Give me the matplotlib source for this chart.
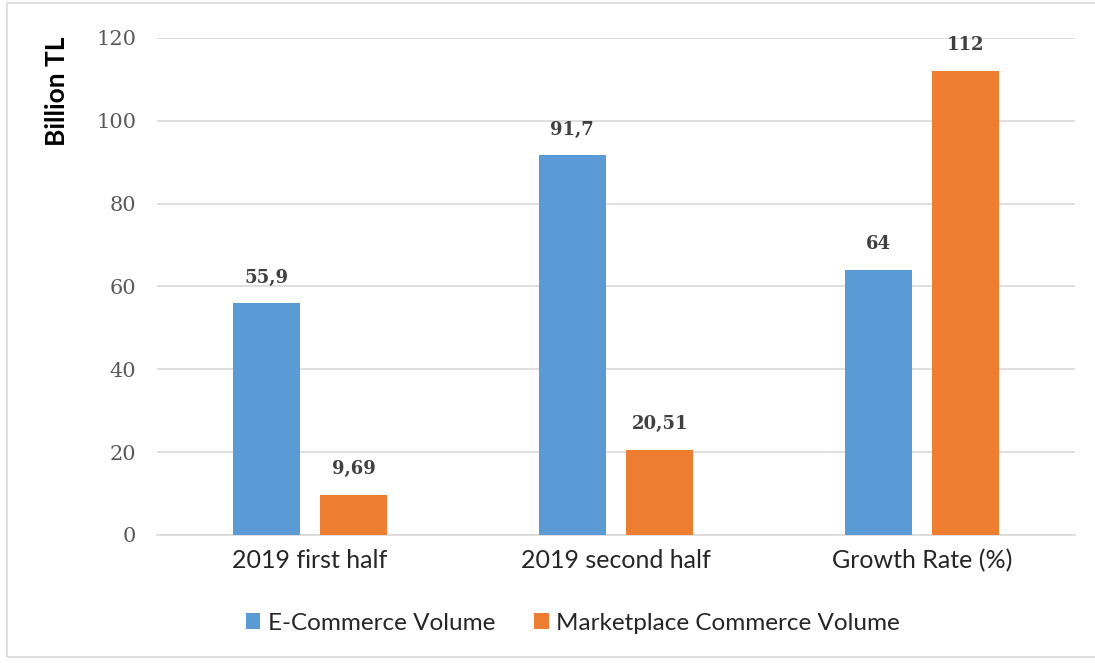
import matplotlib
matplotlib.use("Agg")
import matplotlib.pyplot as plt
from matplotlib.patches import Rectangle
import numpy as np

# Half-year volumes and growth, in billion TL / percent
categories = ["2019 first half", "2019 second half", "Growth Rate (%)"]
ecommerce = [55.9, 91.7, 64]
marketplace = [9.69, 20.51, 112]
ecommerce_labels = ["55,9", "91,7", "64"]
marketplace_labels = ["9,69", "20,51", "112"]
yticks = [0, 20, 40, 60, 80, 100, 120]

BLUE = "#5B9BD5"
ORANGE = "#ED7D31"
GRID = "#D9D9D9"
TXT = "#595959"

fig = plt.figure(figsize=(10.95, 6.63), dpi=100)
ax = fig.add_axes([0.1434, 0.1931, 0.8383, 0.7496])

x = np.arange(len(categories))
w = 0.22
off = 0.143
b1 = ax.bar(x - off, ecommerce, w, color=BLUE, label="E-Commerce Volume", zorder=3)
b2 = ax.bar(x + off, marketplace, w, color=ORANGE, label="Marketplace Commerce Volume", zorder=3)

for bars, labels in [(b1, ecommerce_labels), (b2, marketplace_labels)]:
    for rect, lab in zip(bars, labels):
        ax.annotate(lab, (rect.get_x() + rect.get_width() / 2, rect.get_height()),
                    xytext=(0, 12), textcoords="offset points", ha="center", va="bottom",
                    fontsize=13, fontweight="bold", family="DejaVu Serif", color="#404040")

ax.set_xlim(-0.5, 2.5)
ax.set_ylim(0, 120)
ax.set_yticks(yticks)
ax.set_yticklabels([str(v) for v in yticks], family="DejaVu Serif", fontsize=15, color=TXT)
ax.set_xticks(x)
ax.set_xticklabels(categories, family="Lato", fontsize=18, color="#262626")
ax.tick_params(axis="y", length=0, pad=15)
ax.tick_params(axis="x", length=0, pad=10)
ax.grid(axis="y", color=GRID, linewidth=1.2, zorder=0)
ax.set_axisbelow(True)
for s in ["top", "right", "left"]:
    ax.spines[s].set_visible(False)
ax.spines["bottom"].set_color(GRID)
ax.spines["bottom"].set_linewidth(1.2)

ax.text(-0.109, 0.893, "Billion TL", transform=ax.transAxes, rotation=90,
        ha="center", va="center", fontsize=19, fontweight="bold", family="Lato", color="black")

fig.legend(handles=[b1, b2], loc="center", bbox_to_anchor=(0.523, 0.06), ncol=2,
           frameon=False, prop={"family": "Lato", "size": 17.5}, handlelength=0.6,
           handleheight=0.6, handletextpad=0.3, columnspacing=1.6, labelcolor="#262626")

# light frame around the whole chart
fig.patches.append(Rectangle((7 / 1095, 1 - 657 / 663), 1.1, (657 - 3) / 663,
                             transform=fig.transFigure, fill=False, edgecolor="#D9D9D9",
                             linewidth=1.2))

fig.savefig("out.png", dpi=100)
